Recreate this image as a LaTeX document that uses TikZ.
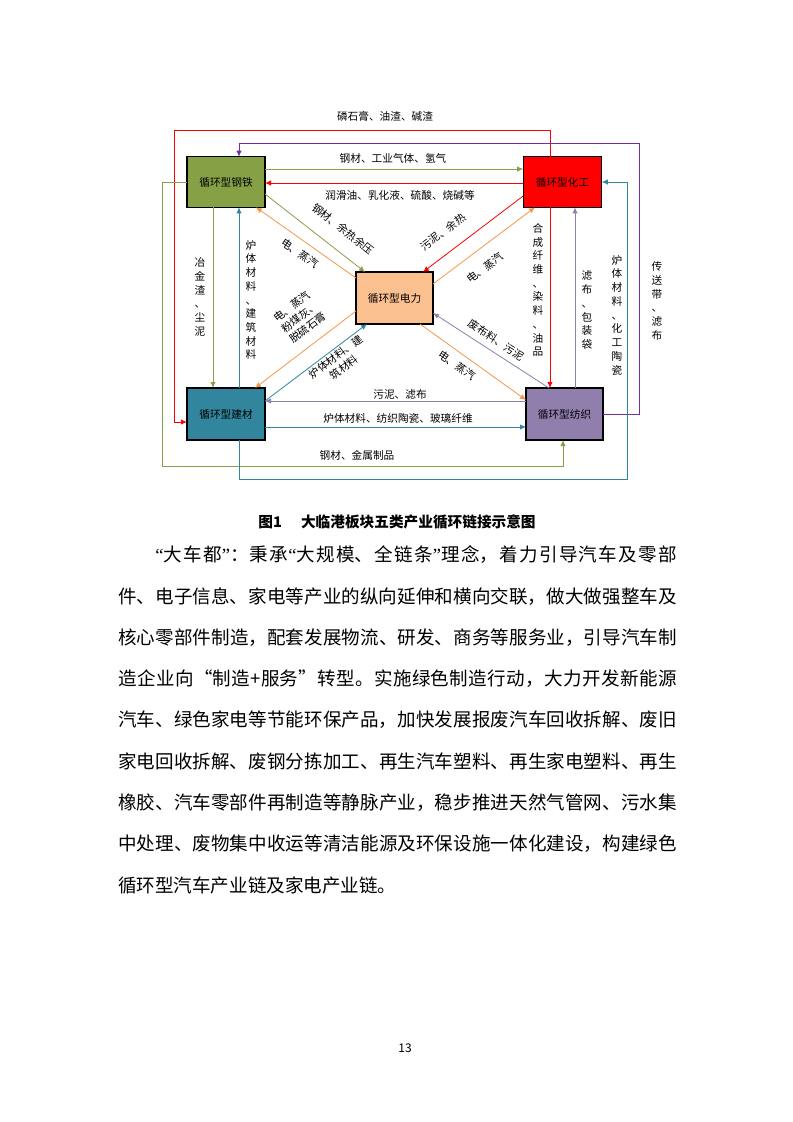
\documentclass[tikz,border=0pt]{standalone}
\usepackage{fontspec}
\setmainfont{Noto Sans CJK SC}
\newfontfamily\quotefont{Liberation Serif}
\usepackage{tikz}
\usetikzlibrary{arrows.meta, positioning, calc}
\XeTeXlinebreaklocale "zh"
\XeTeXlinebreakskip=0pt plus 1pt minus 0.05pt

\definecolor{steelgreen}{RGB}{134, 160, 70}
\definecolor{chemred}{RGB}{255, 0, 0}
\definecolor{powerorange}{RGB}{250, 192, 144}
\definecolor{lineorange}{RGB}{247, 150, 70}
\definecolor{buildteal}{RGB}{49, 133, 156}
\definecolor{textilepurple}{RGB}{144, 126, 172}
\definecolor{deeppurple}{RGB}{112, 48, 160}

\tikzset{
  sector/.style={draw=black, line width=0.8pt, minimum width=58.5pt, minimum height=38pt, inner sep=0pt, outer sep=0pt, font=\fontsize{8}{9}\selectfont},
  connector/.style={line width=0.6pt, -{Latex[length=4.5pt, width=4pt]}},
  lbl/.style={font=\fontsize{8}{9}\selectfont, inner sep=0pt},
  vlbl/.style={font=\fontsize{8}{10.3}\selectfont, align=center, inner sep=0pt},
  bodytext/.style={font=\fontsize{13.9}{18}\selectfont, inner sep=0pt, anchor=west, text width=419pt, align=justify}
}

\begin{document}
\begin{tikzpicture}[x=0.75pt, y=-0.75pt]
  \fill[white] (0,0) rectangle (793,1122);

  % five sectors
  \node[sector, fill=steelgreen] (steel) at (226,182) {循环型钢铁};
  \node[sector, fill=chemred, minimum width=59pt] (chem) at (562.5,182) {循环型化工};
  \node[sector, fill=powerorange, minimum width=57.75pt, minimum height=39pt] (power) at (394.5,298) {循环型电力};
  \node[sector, fill=buildteal, minimum height=39pt] (build) at (226,414) {循环型建材};
  \node[sector, fill=textilepurple, minimum width=57.75pt, minimum height=39pt] (textile) at (564.5,414) {循环型纺织};

  % outer routes
  \draw[connector, chemred] (chem.north -| 550,0) -- (550,130) -| (174,422) -- (build.west |- 0,422);
  \node[lbl] (slag) at (385,116) {磷石膏、油渣、碱渣};

  \draw[connector, deeppurple] (textile.east |- 0,414) -- (639,414) |- (239,143) -- (steel.north -| 239,0);
  \node[vlbl] (belt) at (657,301) {传\\送\\带\\、\\滤\\布};

  \draw[connector, steelgreen] (steel.west |- 0,182) -- (162,182) |- (563,466) -- (textile.south -| 563,0);
  \node[lbl] (metal) at (357,455) {钢材、金属制品};

  \draw[connector, buildteal] (build.south -| 239,0) -- (239,479) -| (627,182) -- (chem.east |- 0,182);
  \node[vlbl] (ceramic) at (617,315) {炉\\体\\材\\料\\、\\化\\工\\陶\\瓷};

  % horizontal links
  \draw[connector, steelgreen] (steel.east |- 0,169) -- (chem.west |- 0,169);
  \node[lbl] (gas) at (393,158) {钢材、工业气体、氢气};

  \draw[connector, chemred] (chem.west |- 0,183) -- (steel.east |- 0,183);
  \node[lbl] (oil) at (400,195) {润滑油、乳化液、硫酸、烧碱等};

  \draw[connector, textilepurple] (textile.west |- 0,401) -- (build.east |- 0,401);
  \node[lbl] (sludge) at (400,394) {污泥、滤布};

  \draw[connector, buildteal] (build.east |- 0,427) -- (textile.west |- 0,427);
  \node[lbl] (fibre) at (398,418) {炉体材料、纺织陶瓷、玻璃纤维};

  % vertical links
  \draw[connector, steelgreen] (steel.south -| 213,0) -- (build.north -| 213,0);
  \node[vlbl] (dust) at (200,297) {冶\\金\\渣\\、\\尘\\泥};

  \draw[connector, buildteal] (build.north -| 239,0) -- (steel.south -| 239,0);
  \node[vlbl] (furnace) at (251,300) {炉\\体\\材\\料\\、\\建\\筑\\材\\料};

  \draw[connector, chemred] (chem.south -| 550,0) -- (textile.north -| 550,0);
  \node[vlbl] (dye) at (538,290) {合\\成\\纤\\维\\、\\染\\料\\、\\油\\品};

  \draw[connector, textilepurple] (textile.north -| 575,0) -- (chem.south -| 575,0);
  \node[vlbl] (bag) at (587,310) {滤\\布\\、\\包\\装\\袋};

  % links to power
  \draw[connector, steelgreen] (steel.east |- 0,194) -- (power.north -| 365,0);
  \node[lbl, rotate=-38] (heat) at (343,229) {钢材、余热余压};

  \draw[connector, lineorange] (power.west |- 0,278) -- (steel.south -| 256,0);
  \node[lbl, rotate=-35] (steam1) at (300,253) {电、蒸汽};

  \draw[connector, chemred] (chem.west |- 0,196) -- (power.north -| 423,0);
  \node[lbl, rotate=37] (waste) at (443,232) {污泥、余热};

  \draw[connector, lineorange] (power.east |- 0,284) -- (chem.south -| 535,0);
  \node[lbl, rotate=36] (steam2) at (485,268) {电、蒸汽};

  \draw[connector, textilepurple] (textile.north -| 549,0) -- (power.east |- 0,313);
  \node[lbl, rotate=-33] (cloth) at (496,340) {废布料、污泥};

  \draw[connector, lineorange] (power.south -| 420,0) -- (textile.west |- 0,400);
  \node[lbl, rotate=-35] (steam3) at (457,365) {电、蒸汽};

  \draw[connector, lineorange] (power.west |- 0,311) -- (build.north -| 255,0);
  \node[lbl, rotate=37, align=center, font=\fontsize{8}{10}\selectfont] (ash) at (300,317) {电、蒸汽\\粉煤灰、\\脱硫石膏};

  \draw[connector, buildteal] (build.east |- 0,401) -- (power.south -| 367,0);
  \node[lbl, rotate=37, align=center, font=\fontsize{8}{10}\selectfont] (lining) at (340,362) {炉体材料、建\\筑材料};

  % caption and text
  \node[font=\bfseries\fontsize{11}{13}\selectfont] (caption) at (397,522) {图1\hspace{1.3em}大临港板块五类产业循环链接示意图};

  \foreach \txt [count=\i] in {
    {\hspace{2em}{\quotefont “}大车都{\quotefont ”}：秉承{\quotefont “}大规模、全链条{\quotefont ”}理念，着力引导汽车及零部},
    {件、电子信息、家电等产业的纵向延伸和横向交联，做大做强整车及},
    {核心零部件制造，配套发展物流、研发、商务等服务业，引导汽车制},
    {造企业向“制造+服务”转型。实施绿色制造行动，大力开发新能源},
    {汽车、绿色家电等节能环保产品，加快发展报废汽车回收拆解、废旧},
    {家电回收拆解、废钢分拣加工、再生汽车塑料、再生家电塑料、再生},
    {橡胶、汽车零部件再制造等静脉产业，稳步推进天然气管网、污水集},
    {中处理、废物集中收运等清洁能源及环保设施一体化建设，构建绿色}
  }
    \node[bodytext] (line\i) at (118,{555+41.25*(\i-1)}) {\parfillskip=0pt\noindent\txt\endgraf};
  \node[bodytext, align=left] (line9) at (118,885) {循环型汽车产业链及家电产业链。};

  \node[font=\fontsize{9}{10}\selectfont] (pagenum) at (405,1048) {13};
\end{tikzpicture}
\end{document}
